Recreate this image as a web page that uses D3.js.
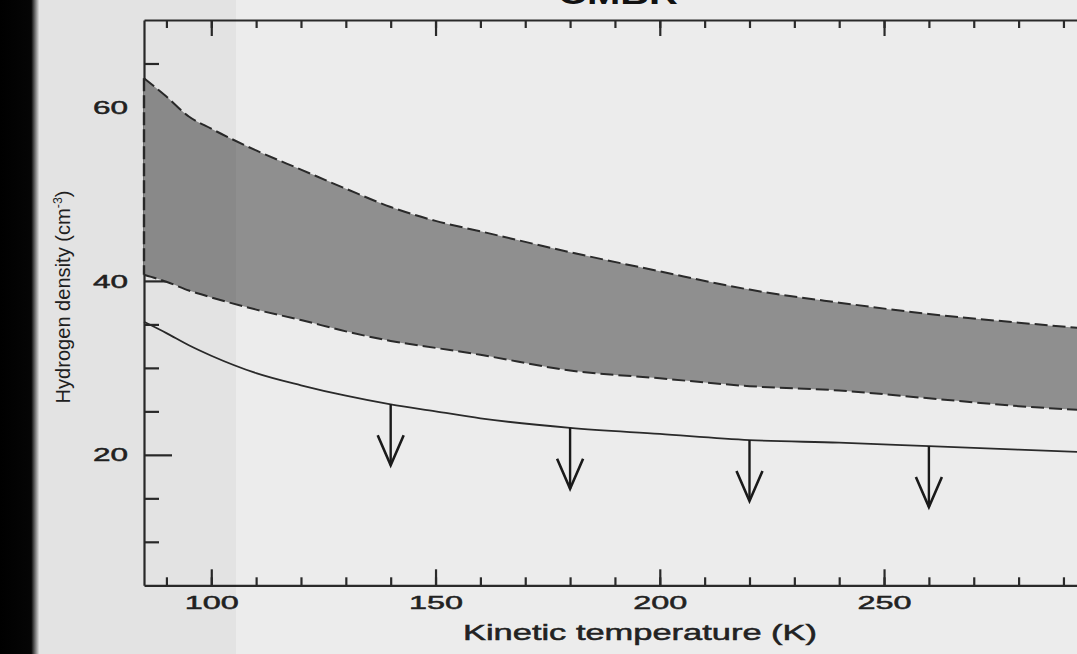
<!DOCTYPE html>
<html>
<head>
<meta charset="utf-8">
<script src="https://cdn.jsdelivr.net/npm/d3@7"></script>
<style>
  body { margin: 0; background: #ececec; overflow: hidden; }
  svg { display: block; }
</style>
</head>
<body>
<svg width="1077" height="654"></svg>
<script>
// kinetic temperature samples (K)
var temps = [85, 90, 95, 100, 110, 120, 130, 140, 150, 160, 180, 200, 220, 240, 260, 280, 300];
// upper edge of the shaded band (dashed)
var bandUpper = [63.3, 61.2, 58.9, 57.5, 55.0, 52.8, 50.6, 48.5, 46.9, 45.7, 43.3, 41.1, 39.0, 37.5, 36.2, 35.2, 34.3];
// lower edge of the shaded band (dashed)
var bandLower = [40.7, 39.9, 38.9, 38.1, 36.7, 35.5, 34.2, 33.1, 32.3, 31.5, 29.7, 28.8, 27.9, 27.4, 26.5, 25.6, 25.0];
// upper limit curve (solid)
var limitLine = [35.3, 34.0, 32.6, 31.4, 29.4, 28.0, 26.8, 25.8, 25.0, 24.2, 23.1, 22.4, 21.7, 21.4, 21.0, 20.6, 20.2];
// where the down arrows sit, and how far they point (density units)
var arrowTemps = [140, 180, 220, 260];
var arrowDrop = 7;

// tick labels
var xMajor = [100, 150, 200, 250];
var xMinor = d3.range(90, 301, 10);
var yMajor = [20, 40, 60];
var yMinor = d3.range(5, 71, 5);

var svg = d3.select("svg");

// photo backdrop: dark edge on the left, slightly darker strip
var defs = svg.append("defs");
var grad = defs.append("linearGradient").attr("id", "edge");
grad.append("stop").attr("offset", "0%").attr("stop-color", "#000");
grad.append("stop").attr("offset", "80%").attr("stop-color", "#050505");
grad.append("stop").attr("offset", "100%").attr("stop-color", "#dcdcdc");
svg.append("rect").attr("x", 0).attr("y", 0).attr("width", 1077).attr("height", 654).attr("fill", "#ececec");

var x = d3.scaleLinear().domain([85, 300]).range([144, 1108.3]);
var y = d3.scaleLinear().domain([5, 70]).range([585.3, 20]);

var data = temps.map(function(t, i) {
  return {t: t, hi: bandUpper[i], lo: bandLower[i], lim: limitLine[i]};
});

var ink = "#2a2a2a";

// AXES (ticks point inward, majors longer)
function styleAxis(sel) {
  sel.selectAll("path.domain").attr("stroke", ink).attr("stroke-width", 2.2);
  sel.selectAll(".tick line").attr("stroke", ink).attr("stroke-width", 2.2);
}

var tickFont = "'Liberation Sans', Arial, sans-serif";

// bottom
svg.append("g")
    .attr("transform", "translate(0,585.3)")
    .call(d3.axisBottom(x).tickValues(xMinor).tickSize(-8).tickFormat(""))
    .call(styleAxis)
    .select(".domain").remove();
var xb = svg.append("g")
    .attr("transform", "translate(0,585.3)")
    .call(d3.axisBottom(x).tickValues(xMajor).tickSize(-16).tickSizeOuter(0).tickPadding(10))
    .call(styleAxis);
xb.selectAll("text")
    .attr("font-family", tickFont)
    .attr("font-size", 19)
    .attr("fill", "#222")
    .attr("stroke", "#222")
    .attr("stroke-width", 0.5)
    .attr("textLength", function(d) { return String(d).length * 18; })
    .attr("lengthAdjust", "spacingAndGlyphs");

// top
svg.append("g")
    .attr("transform", "translate(0,20)")
    .call(d3.axisTop(x).tickValues(xMinor).tickSize(-8).tickFormat(""))
    .call(styleAxis)
    .select(".domain").remove();
svg.append("g")
    .attr("transform", "translate(0,20)")
    .call(d3.axisTop(x).tickValues(xMajor.concat([300])).tickSize(-16).tickSizeOuter(0).tickFormat(""))
    .call(styleAxis);

// left
svg.append("g")
    .attr("transform", "translate(144,0)")
    .call(d3.axisLeft(y).tickValues(yMinor.filter(function(v) { return yMajor.indexOf(v) < 0 && v > 5 && v < 70; }))
      .tickSize(-15).tickFormat(""))
    .call(styleAxis)
    .select(".domain").remove();
var yl = svg.append("g")
    .attr("transform", "translate(144,0)")
    .call(d3.axisLeft(y).tickValues(yMajor).tickSize(-28).tickSizeOuter(0).tickPadding(16))
    .call(styleAxis);
yl.selectAll("text")
    .attr("font-family", tickFont)
    .attr("font-size", 19)
    .attr("fill", "#222")
    .attr("stroke", "#222")
    .attr("stroke-width", 0.5)
    .attr("textLength", function(d) { return String(d).length * 17.5; })
    .attr("lengthAdjust", "spacingAndGlyphs");

// SHADED BAND between the dashed curves
var band = d3.area()
    .x(function(d) { return x(d.t); })
    .y0(function(d) { return y(d.lo); })
    .y1(function(d) { return y(d.hi); })
    .curve(d3.curveMonotoneX);

svg.append("path")
    .datum(data)
    .attr("d", band)
    .attr("fill", "#8f8f8f");

var hiLine = d3.line().x(function(d) { return x(d.t); }).y(function(d) { return y(d.hi); }).curve(d3.curveMonotoneX);
var loLine = d3.line().x(function(d) { return x(d.t); }).y(function(d) { return y(d.lo); }).curve(d3.curveMonotoneX);
var limLine = d3.line().x(function(d) { return x(d.t); }).y(function(d) { return y(d.lim); }).curve(d3.curveMonotoneX);

[hiLine, loLine].forEach(function(ln) {
  svg.append("path")
      .datum(data)
      .attr("d", ln)
      .attr("fill", "none")
      .attr("stroke", ink)
      .attr("stroke-width", 2)
      .attr("stroke-dasharray", "13,5");
});

// closing edge of the band on the left
svg.append("line")
    .attr("x1", x(temps[0])).attr("x2", x(temps[0]))
    .attr("y1", y(bandUpper[0])).attr("y2", y(bandLower[0]))
    .attr("stroke", ink)
    .attr("stroke-width", 2.4)
    .attr("stroke-dasharray", "13,4");

// solid limit curve
svg.append("path")
    .datum(data)
    .attr("d", limLine)
    .attr("fill", "none")
    .attr("stroke", ink)
    .attr("stroke-width", 1.8);

// DOWN ARROWS (upper limits)
var limAt = d3.scaleLinear().domain(temps).range(limitLine);
var arrows = svg.append("g")
    .selectAll("g")
    .data(arrowTemps)
    .enter().append("g");

arrows.append("line")
    .attr("x1", function(d) { return x(d); })
    .attr("x2", function(d) { return x(d); })
    .attr("y1", function(d) { return y(limAt(d)); })
    .attr("y2", function(d) { return y(limAt(d) - arrowDrop); })
    .attr("stroke", "#1a1a1a")
    .attr("stroke-width", 2.4);

arrows.append("path")
    .attr("d", function(d) {
      var tx = x(d), ty = y(limAt(d) - arrowDrop);
      return "M" + (tx - 13) + "," + (ty - 30) + "L" + tx + "," + ty + "L" + (tx + 13) + "," + (ty - 30);
    })
    .attr("fill", "none")
    .attr("stroke", "#1a1a1a")
    .attr("stroke-width", 2.6);

// LABELS
svg.append("text")
    .attr("x", 640)
    .attr("y", 640)
    .attr("text-anchor", "middle")
    .attr("font-family", tickFont)
    .attr("font-size", 22)
    .attr("fill", "#222")
    .attr("stroke", "#222")
    .attr("stroke-width", 0.5)
    .attr("textLength", 354)
    .attr("lengthAdjust", "spacingAndGlyphs")
    .text("Kinetic temperature (K)");

var ytitle = svg.append("text")
    .attr("transform", "translate(70,297) rotate(-90)")
    .attr("text-anchor", "middle")
    .attr("font-family", tickFont)
    .attr("font-size", 21)
    .attr("fill", "#222")
    .attr("textLength", 213)
    .attr("lengthAdjust", "spacingAndGlyphs");
ytitle.append("tspan").text("Hydrogen density (cm");
ytitle.append("tspan").attr("dy", -8).attr("font-size", 13).text("-3");
ytitle.append("tspan").attr("dy", 8).text(")");

// title, mostly cut off at the top of the photo
svg.append("text")
    .attr("x", 618)
    .attr("y", 4)
    .attr("text-anchor", "middle")
    .attr("font-family", tickFont)
    .attr("font-weight", "bold")
    .attr("font-size", 30)
    .attr("fill", "#111")
    .attr("textLength", 120)
    .attr("lengthAdjust", "spacingAndGlyphs")
    .text("CMBR");

// photo vignette: darker strip and black border on the left
svg.append("rect").attr("x", 36).attr("y", 0).attr("width", 200).attr("height", 654)
    .attr("fill", "#000").attr("opacity", 0.035);
svg.append("rect").attr("x", 0).attr("y", 0).attr("width", 39).attr("height", 654)
    .attr("fill", "url(#edge)");
</script>
</body>
</html>
